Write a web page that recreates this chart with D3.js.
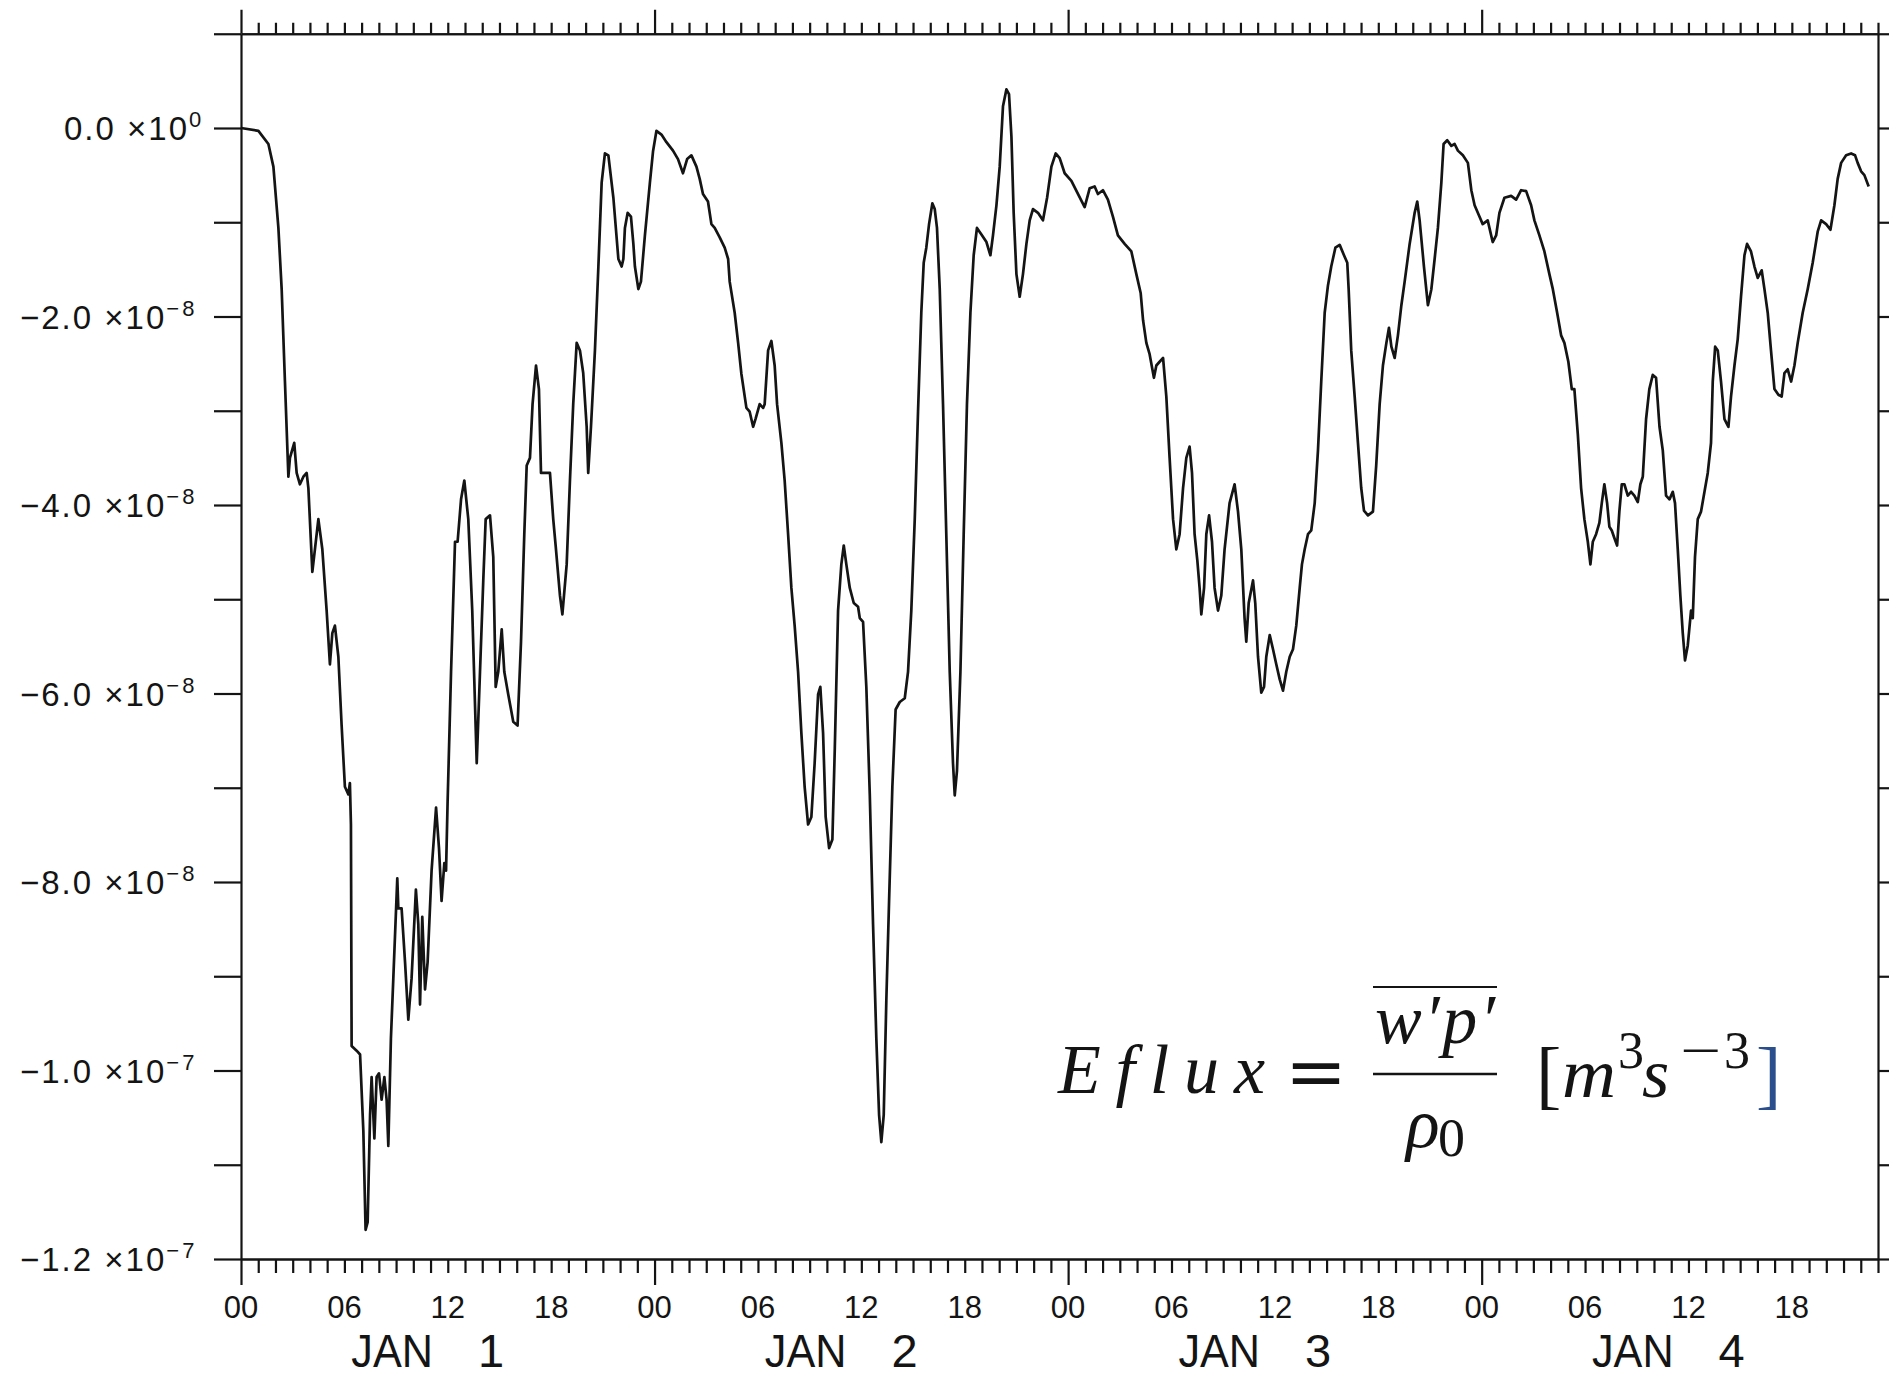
<!DOCTYPE html>
<html>
<head>
<meta charset="utf-8">
<script src="https://cdn.jsdelivr.net/npm/d3@7"></script>
<style>
  html, body { margin: 0; padding: 0; background: #fff; }
  svg { display: block; }
</style>
</head>
<body>
<svg id="chart" width="1889" height="1379"></svg>
<script>
// Energy flux time series, hours since 00 JAN 1, values in units of 1e-8 m^3 s^-3
const jan1 = [
  [0.00,0.00],[1.01,-0.03],[1.59,-0.17],[1.88,-0.41],[2.17,-1.06],[2.36,-1.71],[2.55,-2.69],[2.75,-3.70],
  [2.84,-3.50],[3.09,-3.34],[3.23,-3.66],[3.42,-3.78],[3.62,-3.70],[3.81,-3.66],[3.91,-3.82],[4.14,-4.71],
  [4.29,-4.47],[4.49,-4.15],[4.72,-4.47],[4.97,-5.12],[5.16,-5.69],[5.30,-5.36],[5.45,-5.28],[5.65,-5.61],
  [5.84,-6.34],[6.03,-6.99],[6.23,-7.07],[6.32,-6.95],[6.38,-7.39],[6.42,-9.74],[6.71,-9.79],[6.91,-9.83],
  [7.10,-10.64],[7.23,-11.69],[7.35,-11.61],[7.49,-10.47],[7.58,-10.07],[7.74,-10.72],[7.87,-10.07],[8.01,-10.03],
  [8.16,-10.31],[8.32,-10.07],[8.45,-10.31],[8.55,-10.80],[8.70,-9.66],[8.84,-9.02],[9.07,-7.96],[9.13,-8.28],
  [9.32,-8.28],[9.52,-8.85],[9.71,-9.46],[9.90,-9.02],[10.15,-8.08],[10.29,-8.45],[10.39,-9.30],[10.52,-8.37],
  [10.68,-9.14],[10.83,-8.85],[11.06,-7.88],[11.32,-7.21],[11.49,-7.64],[11.64,-8.20],[11.80,-7.80],[11.90,-7.88],
  [11.99,-7.15],[12.19,-5.77],[12.42,-4.39],[12.57,-4.39],[12.77,-3.94],[12.96,-3.74],[13.19,-4.15],[13.42,-5.12],
  [13.68,-6.74],[13.87,-5.77],[14.06,-4.80],[14.20,-4.15],[14.45,-4.11],[14.64,-4.55],[14.78,-5.93],[14.93,-5.77],
  [15.13,-5.32],[15.28,-5.77],[15.51,-6.01],[15.80,-6.30],[16.05,-6.34],[16.25,-5.45],[16.44,-4.31],[16.58,-3.58],
  [16.77,-3.50],[16.92,-2.93],[17.12,-2.52],[17.29,-2.77],[17.41,-3.66],[17.64,-3.66],[17.93,-3.66],[18.12,-4.15],
  [18.26,-4.43],[18.51,-4.96],[18.65,-5.16],[18.90,-4.63],[19.09,-3.74],[19.28,-2.93],[19.48,-2.28],[19.67,-2.36],
  [19.86,-2.60],[20.06,-3.17],[20.15,-3.66],[20.31,-3.17],[20.54,-2.36],[20.74,-1.47],[20.93,-0.58],[21.12,-0.27],
  [21.32,-0.29],[21.61,-0.74],[21.90,-1.39],[22.09,-1.47],[22.19,-1.39],[22.28,-1.06],[22.44,-0.90],[22.63,-0.94],
  [22.77,-1.23],[22.86,-1.47],[23.06,-1.71],[23.21,-1.63],[23.44,-1.14],[23.73,-0.58]
];
const jan2 = [
  [23.91,-0.25],[24.11,-0.03],[24.40,-0.07],[24.69,-0.15],[25.07,-0.24],[25.36,-0.33],[25.65,-0.48],[25.89,-0.33],
  [26.14,-0.29],[26.43,-0.41],[26.62,-0.54],[26.81,-0.70],[27.10,-0.78],[27.30,-1.02],[27.49,-1.06],[27.78,-1.16],
  [28.07,-1.27],[28.27,-1.39],[28.36,-1.63],[28.65,-1.96],[28.85,-2.28],[29.04,-2.61],[29.33,-2.97],[29.52,-3.01],
  [29.72,-3.17],[29.87,-3.08],[30.10,-2.93],[30.30,-2.97],[30.39,-2.93],[30.59,-2.36],[30.78,-2.26],[30.97,-2.52],
  [31.11,-2.93],[31.36,-3.34],[31.55,-3.74],[31.75,-4.31],[31.94,-4.88],[32.13,-5.28],[32.33,-5.77],[32.52,-6.42],
  [32.71,-6.99],[32.91,-7.39],[33.10,-7.31],[33.29,-6.74],[33.49,-6.01],[33.62,-5.93],[33.78,-6.42],[33.93,-7.31],
  [34.13,-7.64],[34.32,-7.55],[34.46,-6.58],[34.65,-5.12],[34.84,-4.63],[34.98,-4.43],[35.13,-4.63],[35.33,-4.88],
  [35.56,-5.04],[35.81,-5.08],[35.91,-5.20],[36.10,-5.24],[36.29,-5.93],[36.49,-7.07],[36.68,-8.45],[36.87,-9.66],
  [37.03,-10.47],[37.16,-10.76],[37.30,-10.47],[37.45,-9.26],[37.61,-8.20],[37.80,-6.99],[37.99,-6.17],[38.23,-6.09],
  [38.52,-6.05],[38.71,-5.77],[38.90,-5.12],[39.10,-4.15],[39.29,-3.01],[39.48,-1.96],[39.62,-1.43],[39.77,-1.27],
  [39.93,-1.02],[40.12,-0.80],[40.26,-0.86],[40.39,-1.06],[40.55,-1.71],[40.74,-2.93],[40.93,-4.31],[41.13,-5.77],
  [41.32,-6.74],[41.42,-7.08],[41.55,-6.82],[41.75,-5.77],[41.94,-4.31],[42.13,-2.93],[42.33,-1.96],[42.52,-1.35],
  [42.71,-1.06],[42.97,-1.13],[43.26,-1.21],[43.49,-1.35],[43.64,-1.14],[43.84,-0.82],[44.03,-0.41],[44.22,0.23],
  [44.42,0.41],[44.57,0.36],[44.71,-0.09],[44.84,-0.90],[45.00,-1.55],[45.19,-1.79],[45.38,-1.55],[45.58,-1.23],
  [45.77,-0.98],[45.96,-0.86],[46.25,-0.90],[46.54,-0.98],[46.78,-0.74],[47.03,-0.41],[47.28,-0.27],[47.51,-0.32],
  [47.80,-0.48]
];
const jan3 = [
  [48.19,-0.56],[48.57,-0.70],[48.96,-0.84],[49.25,-0.64],[49.54,-0.62],[49.73,-0.70],[50.02,-0.66],[50.31,-0.76],
  [50.60,-0.94],[50.89,-1.14],[51.28,-1.23],[51.67,-1.31],[51.96,-1.55],[52.21,-1.75],[52.35,-2.04],[52.54,-2.28],
  [52.73,-2.40],[52.98,-2.65],[53.12,-2.52],[53.31,-2.48],[53.51,-2.44],[53.70,-2.85],[53.89,-3.50],[54.09,-4.15],
  [54.28,-4.47],[54.47,-4.31],[54.67,-3.82],[54.86,-3.50],[55.05,-3.38],[55.19,-3.66],[55.34,-4.31],[55.50,-4.59],
  [55.63,-4.88],[55.73,-5.16],[55.89,-4.88],[56.02,-4.31],[56.18,-4.11],[56.35,-4.39],[56.50,-4.88],[56.70,-5.12],
  [56.89,-4.96],[57.08,-4.47],[57.37,-3.98],[57.66,-3.78],[57.86,-4.07],[58.05,-4.47],[58.24,-5.20],[58.34,-5.45],
  [58.48,-5.04],[58.73,-4.80],[58.86,-5.04],[59.02,-5.61],[59.21,-5.99],[59.37,-5.93],[59.50,-5.61],[59.70,-5.38],
  [59.89,-5.53],[60.08,-5.69],[60.28,-5.85],[60.47,-5.97],[60.66,-5.77],[60.86,-5.61],[61.05,-5.53],[61.24,-5.28],
  [61.44,-4.88],[61.57,-4.63],[61.73,-4.47],[61.92,-4.31],[62.11,-4.27],[62.31,-3.98],[62.50,-3.42],[62.69,-2.69],
  [62.89,-1.96],[63.08,-1.67],[63.27,-1.47],[63.51,-1.27],[63.76,-1.24],[64.01,-1.35],[64.20,-1.43],[64.28,-1.71],
  [64.43,-2.36],[64.63,-2.85],[64.82,-3.34],[65.01,-3.82],[65.17,-4.06],[65.40,-4.11],[65.69,-4.07],[65.88,-3.58],
  [66.08,-2.93],[66.27,-2.52],[66.47,-2.28],[66.62,-2.12],[66.76,-2.32],[66.95,-2.44],[67.14,-2.20],[67.34,-1.88],
  [67.53,-1.63],[67.82,-1.23],[68.11,-0.90],[68.26,-0.78],[68.40,-0.98],[68.65,-1.47],[68.88,-1.88],[69.08,-1.71],
  [69.27,-1.39],[69.46,-1.06],[69.66,-0.58],[69.79,-0.17],[70.00,-0.13],[70.24,-0.19],[70.43,-0.17],[70.62,-0.24],
  [70.91,-0.29],[71.20,-0.37],[71.40,-0.66],[71.59,-0.82]
];
const jan4 = [
  [71.87,-0.94],[72.06,-1.02],[72.35,-0.98],[72.64,-1.21],[72.84,-1.14],[73.03,-0.90],[73.32,-0.74],[73.71,-0.72],
  [74.00,-0.76],[74.29,-0.66],[74.58,-0.67],[74.87,-0.82],[75.06,-0.98],[75.35,-1.14],[75.64,-1.31],[75.93,-1.55],
  [76.13,-1.71],[76.38,-1.96],[76.61,-2.20],[76.80,-2.28],[77.03,-2.48],[77.23,-2.77],[77.38,-2.77],[77.58,-3.25],
  [77.77,-3.82],[77.96,-4.15],[78.16,-4.39],[78.31,-4.63],[78.45,-4.39],[78.64,-4.31],[78.83,-4.19],[78.97,-3.98],
  [79.12,-3.78],[79.28,-3.98],[79.41,-4.23],[79.55,-4.27],[79.70,-4.35],[79.86,-4.43],[79.99,-4.07],[80.13,-3.78],
  [80.28,-3.78],[80.48,-3.90],[80.67,-3.86],[80.86,-3.90],[81.06,-3.97],[81.21,-3.78],[81.35,-3.70],[81.54,-3.09],
  [81.73,-2.77],[81.93,-2.62],[82.12,-2.65],[82.32,-3.17],[82.51,-3.42],[82.70,-3.90],[82.90,-3.94],[83.09,-3.86],
  [83.22,-3.98],[83.38,-4.47],[83.53,-4.96],[83.67,-5.36],[83.80,-5.65],[83.96,-5.49],[84.15,-5.12],[84.25,-5.20],
  [84.38,-4.55],[84.54,-4.15],[84.73,-4.07],[84.93,-3.86],[85.12,-3.66],[85.31,-3.34],[85.41,-2.69],[85.55,-2.32],
  [85.70,-2.36],[85.89,-2.69],[86.09,-3.09],[86.32,-3.17],[86.47,-2.85],[86.67,-2.52],[86.86,-2.24],[87.05,-1.79],
  [87.25,-1.35],[87.40,-1.23],[87.63,-1.31],[87.83,-1.47],[88.02,-1.59],[88.25,-1.51],[88.41,-1.71],[88.60,-1.96],
  [88.79,-2.36],[88.99,-2.77],[89.22,-2.83],[89.41,-2.85],[89.57,-2.60],[89.76,-2.56],[89.96,-2.69],[90.15,-2.52],
  [90.34,-2.28],[90.63,-1.96],[90.92,-1.71],[91.21,-1.43],[91.50,-1.10],[91.70,-0.98],[91.99,-1.02],[92.24,-1.08],
  [92.47,-0.82],[92.66,-0.54],[92.86,-0.37],[93.15,-0.29],[93.44,-0.27],[93.67,-0.29],[93.82,-0.37],[94.02,-0.46],
  [94.21,-0.50],[94.46,-0.62]
];

// Axis labelling
const hourLabels = ["00", "06", "12", "18"];
const monthName = "JAN";
const dayNumbers = ["1", "2", "3", "4"];
const yLabelValues = [0, -2, -4, -6, -8, -10, -12];   // in units of 1e-8
const yTickValues = d3.range(-12, 1.5, 1);

const series = jan1.concat(jan2, jan3, jan4);

const svg = d3.select("#chart");
svg.append("rect").attr("width", 1889).attr("height", 1379).attr("fill", "#fff");

const x = d3.scaleLinear().domain([0, 95]).range([241, 1878]);
const y = d3.scaleLinear().domain([-12, 1]).range([1259, 33.75]);

const ink = "#141414";
function styleAxis(g) {
  g.selectAll("path.domain").attr("stroke", ink).attr("stroke-width", 2.2);
  g.selectAll(".tick line").attr("stroke", ink).attr("stroke-width", 2.2);
  g.selectAll(".tick text").remove();
}

// left and right frame with tick marks every 1e-8
svg.append("g").attr("transform", `translate(${x(0)},0)`)
  .call(d3.axisLeft(y).tickValues(yTickValues).tickSize(27).tickSizeOuter(0).tickFormat(() => ""))
  .call(styleAxis);
svg.append("g").attr("transform", `translate(${x(95)},0)`)
  .call(d3.axisRight(y).tickValues(yTickValues).tickSize(27).tickSizeOuter(0).tickFormat(() => ""))
  .call(styleAxis);

// time axes: hourly minor ticks, daily major ticks
const hourly = d3.range(1, 96).filter(h => h % 24 !== 0);
const daily = [0, 24, 48, 72];
const yTop = y(1), yBottom = y(-12);
svg.append("g").attr("transform", `translate(0,${yTop})`)
  .call(d3.axisTop(x).tickValues(hourly).tickSize(11).tickSizeOuter(0).tickFormat(() => ""))
  .call(styleAxis);
svg.append("g").attr("transform", `translate(0,${yTop})`)
  .call(d3.axisTop(x).tickValues(daily).tickSize(24).tickSizeOuter(0).tickFormat(() => ""))
  .call(styleAxis);
svg.append("g").attr("transform", `translate(0,${yBottom})`)
  .call(d3.axisBottom(x).tickValues(hourly).tickSize(14).tickSizeOuter(0).tickFormat(() => ""))
  .call(styleAxis);
svg.append("g").attr("transform", `translate(0,${yBottom})`)
  .call(d3.axisBottom(x).tickValues(daily).tickSize(26).tickSizeOuter(0).tickFormat(() => ""))
  .call(styleAxis);

// hour labels under the axis
const hourTicks = d3.range(0, 95, 6);
svg.append("g").selectAll("text").data(hourTicks).join("text")
  .attr("x", d => x(d)).attr("y", 1318)
  .attr("text-anchor", "middle")
  .attr("font-family", "'Liberation Sans', Arial, sans-serif")
  .attr("font-size", 31).attr("fill", ink)
  .text(d => hourLabels[(d % 24) / 6]);

// date labels
const dateG = svg.append("g").attr("font-family", "'Liberation Sans', Arial, sans-serif").attr("fill", ink);
dayNumbers.forEach((dn, i) => {
  dateG.append("text")
    .attr("transform", `translate(${x(24 * i + 6.4)},1367) scale(0.92,1)`)
    .attr("font-size", 47).text(monthName);
  dateG.append("text")
    .attr("x", x(24 * i + 13.75)).attr("y", 1367)
    .attr("font-size", 47).text(dn);
});

// y labels in Ferret style: mantissa x10^exp
function yLabelParts(v) {
  if (v === 0) return ["0.0", "0"];
  const exp = Math.abs(v) >= 10 ? -7 : -8;
  const m = v / Math.pow(10, exp + 8);
  return ["\u2212" + Math.abs(m).toFixed(1), "\u2212" + Math.abs(exp)];
}
const yl = svg.append("g").attr("font-family", "'Liberation Sans', Arial, sans-serif").attr("fill", ink);
yLabelValues.forEach(v => {
  const [mant, ex] = yLabelParts(v);
  const t = yl.append("text")
    .attr("x", v === 0 ? 64 : 20).attr("y", y(v) + 12)
    .attr("font-size", 33).attr("letter-spacing", 2);
  t.append("tspan").text(mant + " \u00d710");
  t.append("tspan").attr("dy", -13).attr("font-size", 22).attr("letter-spacing", 3).text(ex);
});

// the flux curve
const line = d3.line().x(d => x(d[0])).y(d => y(d[1]));
svg.append("path").datum(series)
  .attr("d", line)
  .attr("fill", "none").attr("stroke", ink).attr("stroke-width", 2.7)
  .attr("stroke-linejoin", "round");

// formula annotation
const serif = "'Liberation Serif', 'Times New Roman', serif";
const f = svg.append("g").attr("fill", ink).attr("font-family", serif);
f.append("text").attr("x", 1058).attr("y", 1093).attr("font-size", 70).attr("font-style", "italic")
  .attr("textLength", 207).attr("lengthAdjust", "spacing").text("Eflux");
f.append("text").attr("x", 1316).attr("y", 1097).attr("font-size", 74).attr("text-anchor", "middle")
  .attr("font-family", "'DejaVu Serif', serif").text("=");
f.append("line").attr("x1", 1373).attr("x2", 1497).attr("y1", 987).attr("y2", 987)
  .attr("stroke", ink).attr("stroke-width", 2.2);
f.append("text").attr("x", 1375).attr("y", 1043).attr("font-size", 70).attr("font-style", "italic")
  .attr("textLength", 120).attr("lengthAdjust", "spacing").text("w\u2032p\u2032");
f.append("line").attr("x1", 1373).attr("x2", 1497).attr("y1", 1074).attr("y2", 1074)
  .attr("stroke", ink).attr("stroke-width", 2.4);
f.append("text").attr("x", 1406).attr("y", 1147).attr("font-size", 70).attr("font-style", "italic").text("\u03c1");
f.append("text").attr("x", 1438).attr("y", 1156).attr("font-size", 54).text("0");
f.append("text").attr("x", 1536).attr("y", 1100).attr("font-size", 76).text("[");
f.append("text").attr("x", 1562).attr("y", 1097).attr("font-size", 70).attr("font-style", "italic")
  .attr("textLength", 54).attr("lengthAdjust", "spacingAndGlyphs").text("m");
f.append("text").attr("x", 1618).attr("y", 1068).attr("font-size", 52).text("3");
f.append("text").attr("x", 1642).attr("y", 1097).attr("font-size", 70).attr("font-style", "italic").text("s");
f.append("text").attr("transform", "translate(1680,1068) scale(1.4,1)").attr("font-size", 52).text("\u2212");
f.append("text").attr("x", 1724).attr("y", 1068).attr("font-size", 52).text("3");
f.append("text").attr("x", 1756).attr("y", 1100).attr("font-size", 76).attr("fill", "#2a4f8c").text("]");
</script>
</body>
</html>
